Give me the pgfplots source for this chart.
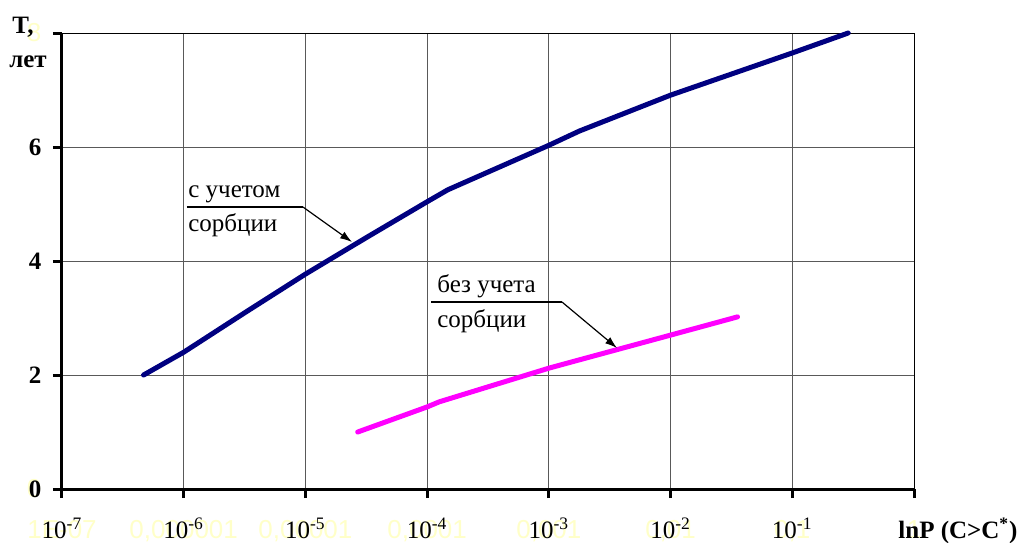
\documentclass[border=0pt]{standalone}
\usepackage{pgfplots}
\pgfplotsset{compat=1.18}
\usepackage{fontspec}
\setmainfont{Liberation Serif}
\newfontfamily\ghostfont{Liberation Sans}
\usetikzlibrary{arrows.meta}
\definecolor{ghost}{RGB}{255,255,200}
\definecolor{navy}{RGB}{0,0,128}
\definecolor{pinkline}{RGB}{255,0,255}
\newcommand\gl[2]{\makebox[0pt]{\ghostfont\fontsize{13}{15}\selectfont\color{ghost}#1}\makebox[0pt]{#2}}
\newcommand\gly[2]{\llap{\ghostfont\fontsize{13}{15}\selectfont\color{ghost}#1}\llap{#2}}
\begin{document}
\begin{tikzpicture}
\begin{axis}[
  scale only axis, width=426pt, height=228pt,
  xmode=log, xmin=1e-7, xmax=1, ymin=0, ymax=8,
  enlargelimits=false,
  font=\fontsize{12.5}{15}\selectfont,
  xtick={1e-7,1e-6,1e-5,1e-4,1e-3,1e-2,1e-1,1},
  xticklabels={{\gl{1E-07}{10\textsuperscript{-7}}},{\gl{0,000001}{10\textsuperscript{-6}}},{\gl{0,00001}{10\textsuperscript{-5}}},{\gl{0,0001}{10\textsuperscript{-4}}},{\gl{0,001}{10\textsuperscript{-3}}},{\gl{0,01}{10\textsuperscript{-2}}},{\gl{0,1}{10\textsuperscript{-1}}},{\gl{1}{}}},
  ytick={0,2,4,6,8},
  yticklabels={{\gly{0}{\textbf{0}}},{\textbf{2}},{\textbf{4}},{\textbf{6}},{\gly{8}{}}},
  xticklabel style={anchor=base, yshift=-20pt},
  yticklabel style={xshift=-2.3pt},
  xtick pos=bottom, ytick pos=left,
  tick align=outside, major tick length=4.5pt,
  major tick style={line width=1.5pt, black},
  minor tick style={draw=none},
  grid=major, major grid style={black!65, line width=0.5pt},
  axis line style={line width=0.5pt},
  clip=false,
]
\addplot[navy, line width=2.5pt, line join=round, line cap=round] coordinates {
 (4.68e-7,2.0) (1e-6,2.40) (3.16e-6,3.09) (1e-5,3.77) (3.16e-5,4.41)
 (1e-4,5.04) (1.48e-4,5.25) (3.16e-4,5.56) (1e-3,6.03) (1.78e-3,6.28)
 (1e-2,6.91) (1e-1,7.65) (2.88e-1,8.0)};
\addplot[pinkline, line width=2.5pt, line join=round, line cap=round] coordinates {
 (2.69e-5,1.0) (1e-4,1.44) (1.26e-4,1.53) (1e-3,2.12) (1.74e-3,2.26)
 (1e-2,2.70) (3.55e-2,3.02)};
\coordinate (sw) at (rel axis cs:0,0);
\draw[line width=1.5pt] (rel axis cs:0,1) -- (rel axis cs:0,0) -- (rel axis cs:1,0);
% annotations
\node[anchor=base west, inner sep=0pt] at (axis cs:1.084e-6,5.12) {с учетом};
\node[anchor=base west, inner sep=0pt] at (axis cs:1.084e-6,4.51) {сорбции};
\draw[line width=0.6pt] (axis cs:1.064e-6,4.947) -- (axis cs:9.55e-6,4.947);
\draw[line width=0.6pt, -{Latex[length=6pt,width=4pt]}] (axis cs:9.55e-6,4.947) -- (axis cs:2.415e-5,4.333);
\node[anchor=base west, inner sep=0pt] at (axis cs:1.205e-4,3.439) {без учета};
\node[anchor=base west, inner sep=0pt] at (axis cs:1.205e-4,2.842) {сорбции};
\draw[line width=0.6pt] (axis cs:1.076e-4,3.281) -- (axis cs:1.282e-3,3.281);
\draw[line width=0.6pt, -{Latex[length=6pt,width=4pt]}] (axis cs:1.282e-3,3.281) -- (axis cs:3.63e-3,2.474);
% axis titles
\node[anchor=base, inner sep=0pt, font=\fontsize{12.5}{15}\selectfont\bfseries] at ([xshift=-19.5pt]rel axis cs:0,1) {T,};
\node[anchor=base, inner sep=0pt, font=\fontsize{12.5}{15}\selectfont\bfseries] at ([xshift=-17pt,yshift=-17pt]rel axis cs:0,1) {лет};
\node[anchor=base west, inner sep=0pt, font=\fontsize{12.5}{15}\selectfont\bfseries] at ([xshift=-8pt,yshift=-24.5pt]rel axis cs:1,0) {lnP (C>C\textsuperscript{*})};
\end{axis}
\pgfresetboundingbox
\path (sw) ++(-31pt,-26.5pt) rectangle ++(511pt,271pt);
\end{tikzpicture}
\end{document}
